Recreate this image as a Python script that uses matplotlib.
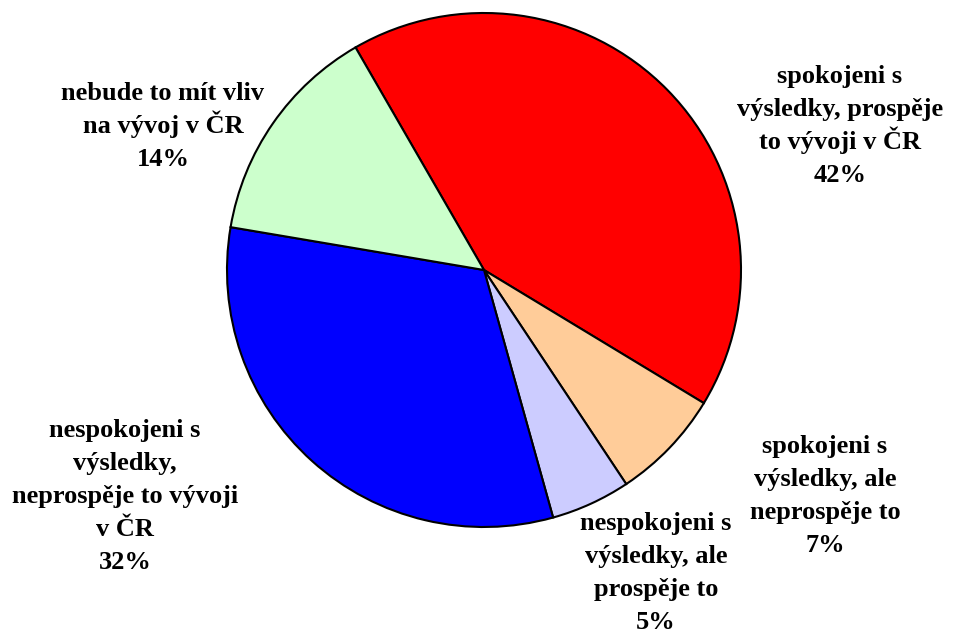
import matplotlib
matplotlib.use("Agg")
import matplotlib.pyplot as plt

labels = [
    "spokojeni s\nvýsledky, prospěje\nto vývoji v ČR",
    "spokojeni s\nvýsledky, ale\nneprospěje to",
    "nespokojeni s\nvýsledky, ale\nprospěje to",
    "nespokojeni s\nvýsledky,\nneprospěje to vývoji\nv ČR",
    "nebude to mít vliv\nna vývoj v ČR",
]
values = [42, 7, 5, 32, 14]
colors = ["#FF0000", "#FFCC99", "#CCCCFF", "#0000FF", "#CCFFCC"]

# label anchor: (center x, first-line baseline y), pixel coords from top
label_pos = [(840, 83), (825, 453), (656, 530), (125, 437), (163, 100)]
LINE_STEP = 33

W, H = 955, 630
fig = plt.figure(figsize=(W / 100, H / 100), dpi=100)
ax = fig.add_axes([0, 0, 1, 1])

ax.pie(values, colors=colors, startangle=120, counterclock=False,
       center=(484, H - 270), radius=257,
       wedgeprops=dict(edgecolor="black", linewidth=1.5))
ax.set_xlim(0, W)
ax.set_ylim(0, H)
ax.set_aspect("equal")
ax.axis("off")

for lab, v, (x, y) in zip(labels, values, label_pos):
    lines = lab.split("\n") + [f"{v}%"]
    for i, line in enumerate(lines):
        ax.text(x, H - (y + i * LINE_STEP), line, ha="center", va="baseline",
                fontsize=19, fontweight="bold", family="Liberation Serif")

fig.savefig("out.png", dpi=100)
